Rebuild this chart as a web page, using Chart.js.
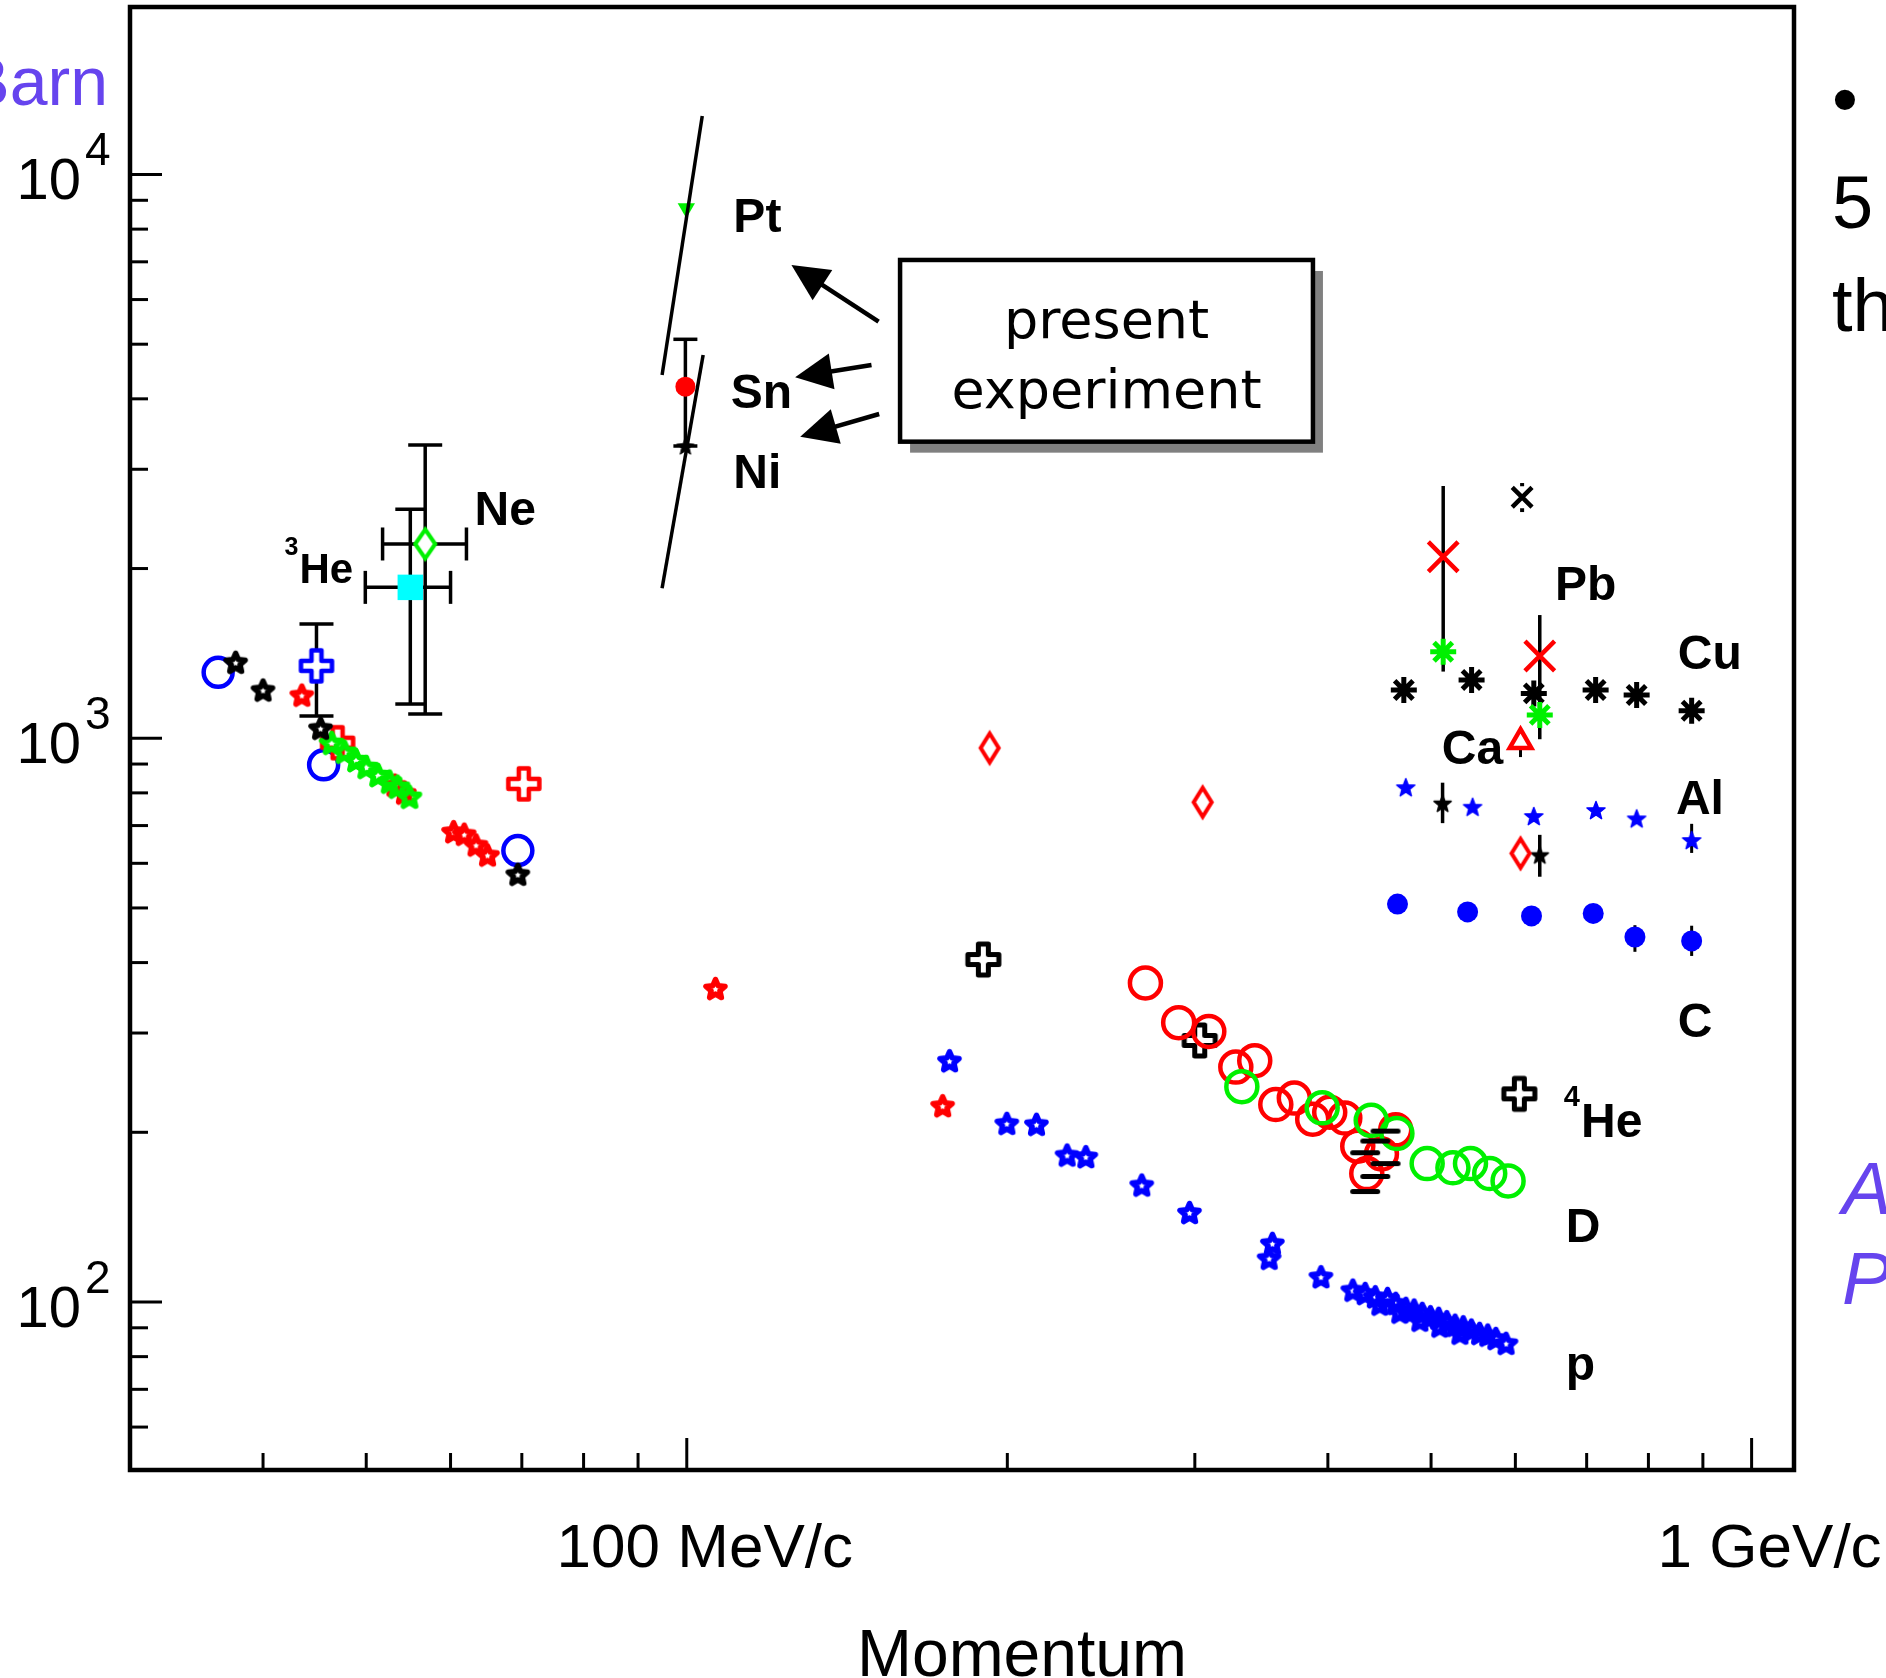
<!DOCTYPE html>
<html><head><meta charset="utf-8">
<script src="https://cdn.jsdelivr.net/npm/chart.js@4.4.1/dist/chart.umd.min.js"></script>
<style>html,body{margin:0;padding:0;background:#fff;overflow:hidden}canvas{display:block}</style>
</head><body>
<canvas id="c" width="1886" height="1678"></canvas>
<script>
// ---------- axis ranges & ticks ----------
const xMin = 30, xMax = 1096, yMin = 50.35, yMax = 19820;
const xMajorTicks = [100, 1000];
const xMajorLabels = ['100 MeV/c', '1 GeV/c'];
const xMinorTicks = [40, 50, 60, 70, 80, 90, 200, 300, 400, 500, 600, 700, 800, 900];
const yMajorTicks = [100, 1000, 10000];
const yMajorLabels = ['10²', '10³', '10⁴'];
const yMinorTicks = [60, 70, 80, 90, 200, 300, 400, 500, 600, 700, 800, 900,
  2000, 3000, 4000, 5000, 6000, 7000, 8000, 9000];
const xTitle = 'Momentum';

// ---------- data (momentum MeV/c, cross section mb) ----------
const blueCircleX = [36.3, 45.6, 69.4];
const blueCircleY = [1309, 897, 632];
const blackStarX = [37.7, 40.0, 45.3, 69.4];
const blackStarY = [1364, 1218, 1042, 574];
const redStarX = [43.5, 53.2, 54.3, 60.4, 61.8, 63.4, 65.0, 106.4, 173.9];
const redStarY = [1193, 826, 800, 683, 676, 647, 621, 360, 223];
const greenStarX = [46.4, 47.7, 48.9, 50.0, 51.3, 52.6, 53.5, 54.9];
const greenStarY = [982, 947, 915, 890, 861, 838, 821, 788];
const blueCrossX = [44.9], blueCrossY = [1344], blueCrossYLo = [1095], blueCrossYHi = [1594];
const redCrossX = [47.0, 70.3], redCrossY = [982, 830];
const cyanSquareX = [55.0], cyanSquareY = [1852];
const cyanSquareXLo = [49.9], cyanSquareXHi = [60.0], cyanSquareYLo = [1150], cyanSquareYHi = [2548];
const greenDiamondX = [56.8], greenDiamondY = [2211];
const greenDiamondXLo = [51.8], greenDiamondXHi = [62.1], greenDiamondYLo = [1104], greenDiamondYHi = [3313];

// present experiment
const ptX = [99.9], ptY = [8710];
const snX = [99.7], snY = [4204], snYLo = [3299], snYHi = [5101];
const niX = [99.7], niY = [3299];
const ptCurveX = [103.4, 94.8], ptCurveY = [12700, 4410];
const snNiCurveX = [103.6, 94.8], snNiCurveY = [4784, 1845];

// right group (Pb, Cu, Ca, Al, C)
const blackXMarkX = [608.8], blackXMarkY = [2676], blackXMarkYLo = [2519], blackXMarkYHi = [2836];
const redXX = [513.3, 632.5], redXY = [2099, 1399], redXYLo = [1313, 996], redXYHi = [2802, 1654];
const greenAstX = [513.3, 632.5], greenAstY = [1424, 1100];
const blackAstX = [471.4, 545.8, 624.4, 713.7, 779.9, 878.4];
const blackAstY = [1218, 1269, 1201, 1218, 1193, 1119];
const redTriX = [606.7], redTriY = [986], redTriYLo = [926], redTriYHi = [1047];
const redDiamondX = [192.5, 305.1, 606.7], redDiamondY = [961, 770, 625];
const blueSmallStarX = [473.4, 547.0, 624.4, 714.2, 779.9, 878.4];
const blueSmallStarY = [819, 756, 728, 746, 721, 660];
const blueSmallStarYLo = [819, 756, 728, 746, 721, 626];
const blueSmallStarYHi = [819, 756, 728, 746, 721, 705];
const blackSmallStarX = [512.6, 632.5], blackSmallStarY = [767, 621];
const blackSmallStarYLo = [707, 568], blackSmallStarYHi = [834, 674];
const blueDotX = [465.0, 541.1, 621.3, 710.0, 777.0, 878.4];
const blueDotY = [508, 492, 484, 489, 444, 437];
const blueDotYLo = [508, 492, 484, 489, 418, 411];
const blueDotYHi = [508, 492, 484, 489, 466, 465];

// lower group (4He, D, p)
const blackCrossX = [189.9, 303.2, 605.2], blackCrossY = [405, 291, 234];
const redCircleX = [269.6, 289.7, 309.2, 327.8, 341.5, 357.4, 372.0, 387.1, 401.6, 414.9, 426.7, 435.1, 449.1, 463.2];
const redCircleY = [368, 313, 302, 261, 268, 224, 230, 211, 217, 212, 189, 169, 183, 202];
const greenCircleX = [332.1, 395.1, 439.3, 464.4, 495.8, 524.2, 544.5, 567.6, 590.6];
const greenCircleY = [241, 221, 210, 199, 176, 173, 176, 169, 164];
const blackDashX = [453.1, 443.2, 433.6, 453.1, 443.2, 433.6];
const blackDashY = [201, 193, 184, 176, 167, 157];
const blueStarX = [176.5, 199.8, 213.0, 227.6, 237.0, 267.5, 296.6, 354.8, 352.3, 394.1, 422.2, 433.6, 443.2, 455.1,
  463.2, 473.5, 482.0, 490.5, 499.3, 508.3, 517.3, 526.6, 536.0, 545.5, 555.3, 565.2, 575.2, 588.0,
  447.6, 467.3, 488.0, 509.5, 532.2];
const blueStarY = [268, 207.5, 206.7, 182.3, 181.1, 161.3, 144.2, 127.1, 119.6, 110.9, 105.0, 103.6, 102.2, 101.5,
  99.5, 97.5, 96.8, 95.5, 94.2, 93.6, 92.3, 91.0, 90.4, 89.2, 88.0, 87.4, 86.2, 84.5,
  99.2, 96.0, 92.9, 90.7, 88.1];

// element labels (left edge x, baseline y in data units)
const labelText = ['³He', 'Ne', 'Pt', 'Sn', 'Ni', 'Pb', 'Cu', 'Ca', 'Al', 'C', '⁴He', 'D', 'p'];
const labelX = [41.9, 63.2, 110.6, 110.0, 110.6, 653.6, 852.6, 511.8, 849.0, 852.6, 666.3, 669.2, 669.2];
const labelY = [1886, 2389, 7916, 3853, 2779, 1759, 1327, 900, 734, 295, 196, 128, 72.7];
const labelSize = [42, 48, 48, 48, 48, 48, 48, 48, 48, 48, 48, 48, 48];

// "present experiment" box and arrows
const boxLines = ['present', 'experiment'];
const boxX = [158.6, 387.3], boxY = [3358, 7053];
const boxTextX = 247.9, boxTextY = [5122, 3848];
const arrowTailX = [151.4, 149.1, 151.6], arrowTailY = [5482, 4593, 3760];
const arrowTipX = [125.4, 126.4, 127.8], arrowTipY = [6910, 4369, 3427];

// cropped slide text around the chart
const unitText = 'Barn';
const sideTexts = ['•', '5', 'th'];
const sideNotes = ['A', 'P'];

// ---------- marker images ----------
function makeStar(rOut, rIn, color, filled, lw) {
  const s = Math.ceil(2 * (rOut + lw + 2));
  const c = document.createElement('canvas'); c.width = s; c.height = s;
  const g = c.getContext('2d');
  g.translate(s / 2, s / 2 + rOut * 0.1);
  g.beginPath();
  for (let k = 0; k < 10; k++) {
    const r = k % 2 === 0 ? rOut : rIn;
    const a = -Math.PI / 2 + k * Math.PI / 5;
    if (k) g.lineTo(r * Math.cos(a), r * Math.sin(a)); else g.moveTo(r * Math.cos(a), r * Math.sin(a));
  }
  g.closePath(); g.lineJoin = 'round';
  if (filled) { g.fillStyle = color; g.fill(); }
  if (lw > 0) { g.strokeStyle = color; g.lineWidth = lw; g.stroke(); }
  return c;
}
function makePlus(size, arm, color, lw) {
  const s = Math.ceil(size + 2 * lw + 4);
  const c = document.createElement('canvas'); c.width = s; c.height = s;
  const g = c.getContext('2d');
  g.translate(s / 2, s / 2);
  const h = size / 2, a = arm / 2;
  const pts = [[-a,-h],[a,-h],[a,-a],[h,-a],[h,a],[a,a],[a,h],[-a,h],[-a,a],[-h,a],[-h,-a],[-a,-a]];
  g.beginPath(); pts.forEach((p, i) => i ? g.lineTo(p[0], p[1]) : g.moveTo(p[0], p[1])); g.closePath();
  g.fillStyle = '#fff'; g.fill();
  g.lineJoin = 'round'; g.strokeStyle = color; g.lineWidth = lw; g.stroke();
  return c;
}
function makeDiamond(w, h, color, lw) {
  const cw = Math.ceil(w + 2 * lw + 4), ch = Math.ceil(h + 2 * lw + 4);
  const c = document.createElement('canvas'); c.width = cw; c.height = ch;
  const g = c.getContext('2d');
  g.translate(cw / 2, ch / 2);
  g.beginPath(); g.moveTo(0, -h / 2); g.lineTo(w / 2, 0); g.lineTo(0, h / 2); g.lineTo(-w / 2, 0); g.closePath();
  g.fillStyle = '#fff'; g.fill();
  g.lineJoin = 'miter'; g.strokeStyle = color; g.lineWidth = lw; g.stroke();
  return c;
}
function makeDash(w, color, lw) {
  const c = document.createElement('canvas'); c.width = Math.ceil(w + 4); c.height = Math.ceil(lw + 4);
  const g = c.getContext('2d');
  g.strokeStyle = color; g.lineWidth = lw; g.lineCap = 'round';
  g.beginPath(); g.moveTo(2 + lw / 2, c.height / 2); g.lineTo(c.width - 2 - lw / 2, c.height / 2); g.stroke();
  return c;
}

const BLUE = '#0000ff', RED = '#ff0000', GREEN = '#00f000', CYAN = '#00ffff', BLACK = '#000000';
const PURPLE = '#6644ee';

function pts(xs, ys) { return xs.map((x, i) => ({ x: x, y: ys[i] })); }
function marker(label, xs, ys, style, extra) {
  return Object.assign({
    label: label, data: pts(xs, ys), showLine: false, pointStyle: style,
    pointRadius: 10, pointHoverRadius: 10, pointBorderWidth: 4,
    pointBorderColor: BLACK, pointBackgroundColor: 'rgba(0,0,0,0)'
  }, extra || {});
}

const datasets = [
  { label: 'Pt curve', data: pts(ptCurveX, ptCurveY), showLine: true, borderColor: BLACK, borderWidth: 3.5,
    pointRadius: 0, pointHoverRadius: 0, fill: false },
  { label: 'Sn/Ni curve', data: pts(snNiCurveX, snNiCurveY), showLine: true, borderColor: BLACK, borderWidth: 3.5,
    pointRadius: 0, pointHoverRadius: 0, fill: false },
  marker('Ni', niX, niY, makeStar(9, 4, BLACK, true, 1)),
  marker('Sn', snX, snY, 'circle', { pointRadius: 10, pointBorderWidth: 0, pointBackgroundColor: RED,
    err: { yLo: snYLo, yHi: snYHi, capY: 24, width: 3.5 } }),
  marker('Pt', ptX, ptY, 'triangle', { pointRadius: 10, pointRotation: 180, pointBorderWidth: 0, pointBackgroundColor: GREEN }),
  marker('black stars', blackStarX, blackStarY, makeStar(10, 4.6, BLACK, false, 5.5)),
  marker('green stars', greenStarX, greenStarY, makeStar(10.5, 4.8, GREEN, false, 5.5)),
  marker('red stars', redStarX, redStarY, makeStar(10, 4.6, RED, false, 5.5)),
  marker('red crosses', redCrossX, redCrossY, makePlus(31, 10, RED, 4.5)),
  marker('blue cross', blueCrossX, blueCrossY, makePlus(31, 10, BLUE, 4.5),
    { err: { yLo: blueCrossYLo, yHi: blueCrossYHi, capY: 34, width: 3.5 } }),
  marker('blue circles', blueCircleX, blueCircleY, 'circle', { pointRadius: 14.5, pointBorderWidth: 4.5, pointBorderColor: BLUE }),
  marker('Ne', greenDiamondX, greenDiamondY, makeDiamond(20, 29, GREEN, 4),
    { err: { xLo: greenDiamondXLo, xHi: greenDiamondXHi, yLo: greenDiamondYLo, yHi: greenDiamondYHi, capX: 33, capY: 34, width: 3.5 } }),
  marker('3He', cyanSquareX, cyanSquareY, 'rect', { pointRadius: 18, pointBorderWidth: 0, pointBackgroundColor: CYAN,
    err: { xLo: cyanSquareXLo, xHi: cyanSquareXHi, yLo: cyanSquareYLo, yHi: cyanSquareYHi, capX: 33, capY: 30, width: 3.5 } }),
  marker('black dashes', blackDashX, blackDashY, makeDash(30, BLACK, 5)),
  marker('green circles', greenCircleX, greenCircleY, 'circle', { pointRadius: 15.5, pointBorderWidth: 4.5, pointBorderColor: GREEN }),
  marker('red circles', redCircleX, redCircleY, 'circle', { pointRadius: 15.5, pointBorderWidth: 4.5, pointBorderColor: RED }),
  marker('black crosses', blackCrossX, blackCrossY, makePlus(31, 10, BLACK, 5)),
  marker('blue stars', blueStarX, blueStarY, makeStar(10, 4.6, BLUE, false, 5.5)),
  marker('red diamonds', redDiamondX, redDiamondY, makeDiamond(18, 29, RED, 4)),
  marker('black x', blackXMarkX, blackXMarkY, 'crossRot', { pointRadius: 14, pointBorderWidth: 4.5,
    err: { yLo: blackXMarkYLo, yHi: blackXMarkYHi, width: 4, gap: 11 } }),
  marker('red x', redXX, redXY, 'crossRot', { pointRadius: 21, pointBorderWidth: 4.5, pointBorderColor: RED,
    err: { yLo: redXYLo, yHi: redXYHi, width: 3.5 } }),
  marker('green asterisks', greenAstX, greenAstY, 'star', { pointRadius: 13, pointBorderWidth: 5, pointBorderColor: GREEN }),
  marker('black asterisks', blackAstX, blackAstY, 'star', { pointRadius: 13, pointBorderWidth: 5 }),
  marker('red triangle', redTriX, redTriY, 'triangle', { pointRadius: 12.5, pointBorderWidth: 4.5, pointBorderColor: RED,
    pointBackgroundColor: '#fff', err: { yLo: redTriYLo, yHi: redTriYHi, width: 3 } }),
  marker('blue small stars', blueSmallStarX, blueSmallStarY, makeStar(9.5, 4, BLUE, true, 1.5),
    { err: { yLo: blueSmallStarYLo, yHi: blueSmallStarYHi, width: 3 } }),
  marker('black small stars', blackSmallStarX, blackSmallStarY, makeStar(9, 3.8, BLACK, true, 1.5),
    { err: { yLo: blackSmallStarYLo, yHi: blackSmallStarYHi, width: 3.5 } }),
  marker('blue dots', blueDotX, blueDotY, 'circle', { pointRadius: 10.5, pointBorderWidth: 0, pointBackgroundColor: BLUE,
    err: { yLo: blueDotYLo, yHi: blueDotYHi, width: 3 } })
];

// ---------- plugins ----------
const SUP = { '²': '2', '³': '3', '⁴': '4' };
const SANS = '"Liberation Sans", Arial, Helvetica, sans-serif';

function line(ctx, x1, y1, x2, y2) { ctx.beginPath(); ctx.moveTo(x1, y1); ctx.lineTo(x2, y2); ctx.stroke(); }

const errorBarPlugin = {
  id: 'errorBars',
  beforeDatasetsDraw(chart) {
    const ctx = chart.ctx, xs = chart.scales.x, ys = chart.scales.y;
    chart.data.datasets.forEach(ds => {
      const e = ds.err; if (!e) return;
      ctx.save();
      ctx.strokeStyle = e.color || BLACK; ctx.lineWidth = e.width || 3; ctx.lineCap = 'butt';
      const gap = e.gap || 0;
      ds.data.forEach((p, i) => {
        const cx = xs.getPixelForValue(p.x), cy = ys.getPixelForValue(p.y);
        if (e.yLo) {
          const y1 = ys.getPixelForValue(e.yLo[i]), y2 = ys.getPixelForValue(e.yHi[i]);
          if (gap) { line(ctx, cx, y1, cx, Math.min(y1, cy + gap)); line(ctx, cx, y2, cx, Math.max(y2, cy - gap)); }
          else line(ctx, cx, y1, cx, y2);
          if (e.capY) { line(ctx, cx - e.capY / 2, y1, cx + e.capY / 2, y1); line(ctx, cx - e.capY / 2, y2, cx + e.capY / 2, y2); }
        }
        if (e.xLo) {
          const x1 = xs.getPixelForValue(e.xLo[i]), x2 = xs.getPixelForValue(e.xHi[i]);
          line(ctx, x1, cy, x2, cy);
          if (e.capX) { line(ctx, x1, cy - e.capX / 2, x1, cy + e.capX / 2); line(ctx, x2, cy - e.capX / 2, x2, cy + e.capX / 2); }
        }
      });
      ctx.restore();
    });
  }
};

function drawArrow(ctx, x1, y1, x2, y2) {
  const dx = x2 - x1, dy = y2 - y1, L = Math.hypot(dx, dy), ux = dx / L, uy = dy / L;
  const hl = 37, hw = 18;
  const bx = x2 - ux * hl, by = y2 - uy * hl;
  ctx.lineWidth = 4.5; ctx.strokeStyle = BLACK; ctx.fillStyle = BLACK;
  line(ctx, x1, y1, bx + ux * 4, by + uy * 4);
  ctx.beginPath(); ctx.moveTo(x2, y2);
  ctx.lineTo(bx - uy * hw, by + ux * hw); ctx.lineTo(bx + uy * hw, by - ux * hw); ctx.closePath(); ctx.fill();
}

function drawLabel(ctx, text, x, y, size) {
  let cx = x, rest = text;
  ctx.textAlign = 'left'; ctx.textBaseline = 'alphabetic'; ctx.fillStyle = BLACK;
  if (SUP[text[0]]) {
    const d = SUP[text[0]];
    ctx.font = 'bold ' + Math.round(size * 0.6) + 'px ' + SANS;
    ctx.fillText(d, cx, y - size * 0.66);
    cx += ctx.measureText(d).width + 1;
    rest = text.slice(1);
  }
  ctx.font = 'bold ' + size + 'px ' + SANS;
  ctx.fillText(rest, cx, y);
}

const decorPlugin = {
  id: 'decor',
  afterDatasetsDraw(chart) {
    const ctx = chart.ctx, xs = chart.scales.x, ys = chart.scales.y, a = chart.chartArea;
    ctx.save();
    // frame
    ctx.strokeStyle = BLACK; ctx.lineWidth = 4.5;
    ctx.strokeRect(a.left, a.top, a.right - a.left, a.bottom - a.top);
    // tick marks (inside)
    ctx.lineWidth = 3;
    xs.ticks.forEach(t => {
      const p = xs.getPixelForValue(t.value); const len = t.major ? 32 : 17;
      line(ctx, p, a.bottom, p, a.bottom - len);
    });
    ys.ticks.forEach(t => {
      const p = ys.getPixelForValue(t.value); const len = t.major ? 32 : 18;
      line(ctx, a.left, p, a.left + len, p);
    });
    // y tick labels 10^n
    ctx.fillStyle = BLACK;
    yMajorTicks.forEach((v, i) => {
      const p = ys.getPixelForValue(v);
      const lab = yMajorLabels[i];
      const base = lab.slice(0, -1), ex = SUP[lab.slice(-1)];
      ctx.font = '58px ' + SANS; ctx.textAlign = 'right'; ctx.textBaseline = 'alphabetic';
      ctx.fillText(base, a.left - 49, p + 25);
      ctx.font = '46px ' + SANS; ctx.textAlign = 'left';
      ctx.fillText(ex, a.left - 45, p - 9.5);
    });
    // x tick labels
    ctx.font = '62px ' + SANS; ctx.textAlign = 'center';
    xMajorTicks.forEach((v, i) => {
      ctx.fillText(xMajorLabels[i], xs.getPixelForValue(v) + 18, a.bottom + 97);
    });
    // x title
    ctx.font = '66px ' + SANS;
    ctx.fillText(xTitle, (a.left + a.right) / 2 + 60, a.bottom + 206);
    // unit text (cropped)
    ctx.fillStyle = PURPLE; ctx.font = '68px ' + SANS; ctx.textAlign = 'right';
    ctx.fillText(unitText, a.left - 22, a.top + 98);
    // side text (cropped)
    ctx.fillStyle = BLACK; ctx.textAlign = 'left'; ctx.font = '74px ' + SANS;
    sideTexts.forEach((t, i) => ctx.fillText(t, a.right + 38, a.top + 118 + i * 103));
    ctx.fillStyle = PURPLE; ctx.font = 'italic 74px ' + SANS;
    sideNotes.forEach((t, i) => ctx.fillText(t, a.right + 48, a.top + 1207 + i * 90));
    // element labels
    labelText.forEach((t, i) => drawLabel(ctx, t, xs.getPixelForValue(labelX[i]), ys.getPixelForValue(labelY[i]), labelSize[i]));
    // present experiment box
    const bx1 = xs.getPixelForValue(boxX[0]), bx2 = xs.getPixelForValue(boxX[1]);
    const by1 = ys.getPixelForValue(boxY[1]), by2 = ys.getPixelForValue(boxY[0]);
    ctx.fillStyle = '#808080'; ctx.fillRect(bx1 + 10, by1 + 11, bx2 - bx1, by2 - by1);
    ctx.fillStyle = '#fff'; ctx.fillRect(bx1, by1, bx2 - bx1, by2 - by1);
    ctx.strokeStyle = BLACK; ctx.lineWidth = 4.5; ctx.strokeRect(bx1, by1, bx2 - bx1, by2 - by1);
    ctx.fillStyle = BLACK; ctx.font = '54px "DejaVu Sans", sans-serif'; ctx.textAlign = 'center';
    boxLines.forEach((t, i) => ctx.fillText(t, xs.getPixelForValue(boxTextX), ys.getPixelForValue(boxTextY[i])));
    // arrows
    arrowTailX.forEach((v, i) => drawArrow(ctx, xs.getPixelForValue(v), ys.getPixelForValue(arrowTailY[i]),
      xs.getPixelForValue(arrowTipX[i]), ys.getPixelForValue(arrowTipY[i])));
    ctx.restore();
  }
};

function setTicks(majors, minors) {
  return function (scale) {
    const all = majors.map(v => ({ value: v, major: true })).concat(minors.map(v => ({ value: v, major: false })));
    all.sort((p, q) => p.value - q.value);
    scale.ticks = all;
  };
}

new Chart(document.getElementById('c'), {
  type: 'scatter',
  data: { datasets: datasets },
  options: {
    responsive: false, animation: false, events: [],
    devicePixelRatio: 1,
    layout: { padding: { left: 130, top: 7, right: 92, bottom: 208 }, autoPadding: false },
    plugins: { legend: { display: false }, tooltip: { enabled: false } },
    scales: {
      x: { type: 'logarithmic', min: xMin, max: xMax, afterBuildTicks: setTicks(xMajorTicks, xMinorTicks),
        ticks: { display: false }, grid: { display: false, drawTicks: false }, border: { display: false } },
      y: { type: 'logarithmic', min: yMin, max: yMax, afterBuildTicks: setTicks(yMajorTicks, yMinorTicks),
        ticks: { display: false }, grid: { display: false, drawTicks: false }, border: { display: false } }
    }
  },
  plugins: [errorBarPlugin, decorPlugin]
});
</script>
</body></html>
